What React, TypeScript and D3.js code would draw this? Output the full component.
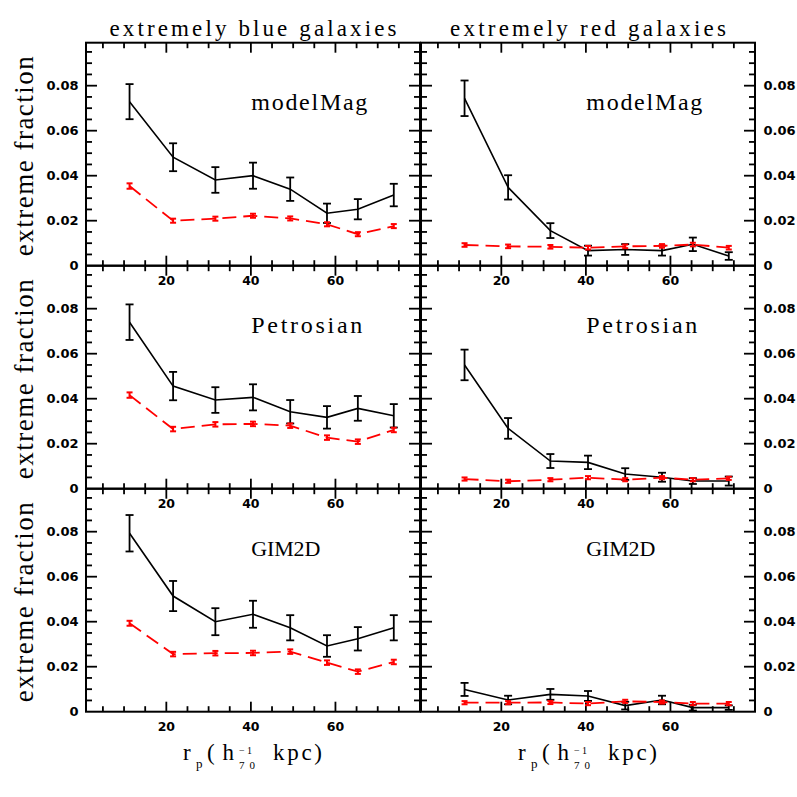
import React from "react";
import * as d3 from "d3";

// ---------- data ----------
const rpValues = [11.3, 21.6, 31.6, 40.5, 49.3, 58.0, 65.3, 73.8];
const columnTitles = ["extremely blue galaxies", "extremely red galaxies"];
const rowLabels = ["modelMag", "Petrosian", "GIM2D"];
const xMajorTicks = [20, 40, 60];
const xTickLabels = ["20", "40", "60"];
const yMajorTicks = [0, 0.02, 0.04, 0.06, 0.08];
const yTickLabels = ["0", "0.02", "0.04", "0.06", "0.08"];

// blue, modelMag
const blueModelBlack = [0.0729, 0.0482, 0.0381, 0.04, 0.034, 0.0233, 0.0251, 0.0314];
const blueModelBlackErr = [0.0078, 0.0062, 0.0057, 0.0058, 0.0052, 0.0043, 0.0045, 0.005];
const blueModelRed = [0.0354, 0.02, 0.0209, 0.0222, 0.021, 0.0184, 0.014, 0.0176];
const blueModelRedErr = [0.0012, 0.0009, 0.0009, 0.0009, 0.0009, 0.0009, 0.0009, 0.0009];
// red, modelMag
const redModelBlack = [0.0744, 0.0348, 0.0156, 0.0067, 0.0072, 0.0067, 0.0095, 0.0043];
const redModelBlackErr = [0.0079, 0.0054, 0.0033, 0.0022, 0.0024, 0.0022, 0.003, 0.0017];
const redModelRed = [0.0092, 0.0086, 0.0084, 0.008, 0.0086, 0.0088, 0.0094, 0.008];
const redModelRedErr = [0.0008, 0.0008, 0.0008, 0.0008, 0.0008, 0.0008, 0.0008, 0.0008];
// blue, Petrosian
const bluePetroBlack = [0.074, 0.0456, 0.0394, 0.0406, 0.0342, 0.0317, 0.0357, 0.0324];
const bluePetroBlackErr = [0.0079, 0.0063, 0.0057, 0.0058, 0.0052, 0.005, 0.0055, 0.0052];
const bluePetroRed = [0.0416, 0.0265, 0.0286, 0.0288, 0.028, 0.0227, 0.0209, 0.0261];
const bluePetroRedErr = [0.0012, 0.001, 0.001, 0.001, 0.001, 0.001, 0.001, 0.001];
// red, Petrosian
const redPetroBlack = [0.055, 0.0268, 0.0123, 0.0117, 0.0065, 0.0051, 0.0034, 0.0034];
const redPetroBlackErr = [0.0068, 0.0046, 0.0031, 0.003, 0.0026, 0.002, 0.0013, 0.002];
const redPetroRed = [0.0043, 0.0033, 0.004, 0.0049, 0.004, 0.0049, 0.004, 0.0046];
const redPetroRedErr = [0.0007, 0.0007, 0.0007, 0.0007, 0.0007, 0.0007, 0.0007, 0.0007];
// blue, GIM2D
const blueGimBlack = [0.0793, 0.0514, 0.04, 0.0433, 0.0373, 0.0292, 0.0324, 0.0373];
const blueGimBlackErr = [0.0081, 0.0067, 0.006, 0.006, 0.0056, 0.0048, 0.0052, 0.0056];
const blueGimRed = [0.0393, 0.0256, 0.026, 0.0261, 0.0267, 0.0218, 0.0178, 0.0221];
const blueGimRedErr = [0.0011, 0.001, 0.001, 0.001, 0.001, 0.001, 0.001, 0.001];
// red, GIM2D
const redGimBlack = [0.0099, 0.0052, 0.0077, 0.007, 0.0027, 0.0052, 0.0018, 0.0018];
const redGimBlackErr = [0.0029, 0.0019, 0.0024, 0.0022, 0.0017, 0.0019, 0.0013, 0.001];
const redGimRed = [0.004, 0.004, 0.0041, 0.0036, 0.0046, 0.0043, 0.0036, 0.0036];
const redGimRedErr = [0.0007, 0.0007, 0.0007, 0.0007, 0.0007, 0.0007, 0.0007, 0.0007];

const panels = [
  { row: 0, col: 0, black: blueModelBlack, blackErr: blueModelBlackErr, red: blueModelRed, redErr: blueModelRedErr },
  { row: 0, col: 1, black: redModelBlack, blackErr: redModelBlackErr, red: redModelRed, redErr: redModelRedErr },
  { row: 1, col: 0, black: bluePetroBlack, blackErr: bluePetroBlackErr, red: bluePetroRed, redErr: bluePetroRedErr },
  { row: 1, col: 1, black: redPetroBlack, blackErr: redPetroBlackErr, red: redPetroRed, redErr: redPetroRedErr },
  { row: 2, col: 0, black: blueGimBlack, blackErr: blueGimBlackErr, red: blueGimRed, redErr: blueGimRedErr },
  { row: 2, col: 1, black: redGimBlack, blackErr: redGimBlackErr, red: redGimRed, redErr: redGimRedErr },
];

// ---------- layout ----------
const W = 797;
const H = 797;
const colLeft = [86, 421];
const colRight = [420, 755];
const rowTop = [42.7, 265.7, 488.7];
const panelH = 223;
const X_DOMAIN: [number, number] = [1, 80];
const Y_DOMAIN: [number, number] = [0, 0.0991];

const serif = "'Liberation Serif', 'DejaVu Serif', serif";
const sans = "'DejaVu Sans', 'Liberation Sans', Arial, sans-serif";
const RED = "#ff0000";

const labelSize = [24, 24, 22];
const labelLen = [116, 111, 69];

function Panel({ p }: { p: (typeof panels)[number] }) {
  const x0 = colLeft[p.col];
  const x1 = colRight[p.col];
  const y0 = rowTop[p.row];
  const y1 = y0 + panelH;
  const x = d3.scaleLinear().domain(X_DOMAIN).range([x0, x1]);
  const y = d3.scaleLinear().domain(Y_DOMAIN).range([y1, y0]);
  const line = d3
    .line<number>()
    .x((_, i) => x(rpValues[i]))
    .y((d) => y(d));

  const xTicks = d3.range(1, 16).map((i) => i * 5);
  const yTicks = d3.range(1, 20).map((i) => i * 0.005);
  const tickEls: JSX.Element[] = [];
  xTicks.forEach((t, i) => {
    const major = xMajorTicks.includes(t);
    const len = major ? 10 : 5.5;
    const xx = x(t);
    tickEls.push(<line key={`xb${i}`} x1={xx} x2={xx} y1={y1} y2={y1 - len} />);
    tickEls.push(<line key={`xt${i}`} x1={xx} x2={xx} y1={y0} y2={y0 + len} />);
  });
  yTicks.forEach((t, i) => {
    const major = (i + 1) % 4 === 0;
    const len = major ? 11 : 6;
    const yy = y(t);
    tickEls.push(<line key={`yl${i}`} x1={x0} x2={x0 + len} y1={yy} y2={yy} />);
    tickEls.push(<line key={`yr${i}`} x1={x1} x2={x1 - len} y1={yy} y2={yy} />);
  });

  const errBars = (vals: number[], errs: number[], color: string, cap: number, sw: number, prefix: string) =>
    vals.map((v, i) => {
      const xx = x(rpValues[i]);
      const ya = y(v - errs[i]);
      const yb = y(v + errs[i]);
      return (
        <g key={`${prefix}${i}`} stroke={color} strokeWidth={sw}>
          <line x1={xx} x2={xx} y1={ya} y2={yb} />
          <line x1={xx - cap} x2={xx + cap} y1={ya} y2={ya} />
          <line x1={xx - cap} x2={xx + cap} y1={yb} y2={yb} />
        </g>
      );
    });

  const isLeft = p.col === 0;
  return (
    <g>
      <g stroke="#000" strokeWidth={1.8}>{tickEls}</g>
      <rect x={x0} y={y0} width={x1 - x0} height={panelH} fill="none" stroke="#000" strokeWidth={2} />
      {/* x tick labels */}
      {xMajorTicks.map((t, i) => (
        <text key={`xl${i}`} x={x(t)} y={y1 + 19.5} textAnchor="middle" fontFamily={sans} fontWeight="bold" fontSize={12.5}>
          {xTickLabels[i]}
        </text>
      ))}
      {/* y tick labels */}
      {yMajorTicks.map((t, i) => (
        <text
          key={`yl${i}`}
          x={isLeft ? 78.5 : 763.5}
          y={y(t) + 4.6}
          textAnchor={isLeft ? "end" : "start"}
          fontFamily={sans}
          fontWeight="bold"
          fontSize={13}
        >
          {yTickLabels[i]}
        </text>
      ))}
      {/* data */}
      <path d={line(p.black) || ""} fill="none" stroke="#000" strokeWidth={1.6} />
      {errBars(p.black, p.blackErr, "#000", 4, 1.8, "be")}
      <path d={line(p.red) || ""} fill="none" stroke={RED} strokeWidth={1.8} strokeDasharray="14,7" />
      {errBars(p.red, p.redErr, RED, 3, 2, "re")}
      {/* panel label */}
      <text
        x={x(40.1)}
        y={y0 + 67}
        fontFamily={serif}
        fontSize={labelSize[p.row]}
        textLength={labelLen[p.row]}
        lengthAdjust="spacing"
      >
        {rowLabels[p.row]}
      </text>
    </g>
  );
}

function XAxisLabel({ cx }: { cx: number }) {
  return (
    <g fontFamily={serif} fill="#000">
      <text x={cx - 70} y={760} fontSize={23}>r</text>
      <text x={cx - 57} y={768} fontSize={13}>p</text>
      <text x={cx - 46} y={760} fontSize={23} textLength={27} lengthAdjust="spacing">(h</text>
      <text x={cx - 14} y={753.5} fontSize={10} textLength={13} lengthAdjust="spacing">−1</text>
      <text x={cx - 14} y={768.5} fontSize={11} textLength={16} lengthAdjust="spacing">70</text>
      <text x={cx + 20} y={760} fontSize={23} textLength={49} lengthAdjust="spacing">kpc)</text>
    </g>
  );
}

export default function App() {
  return (
    <svg
      width={W}
      height={H}
      viewBox={`0 0 ${W} ${H}`}
      style={{ position: "absolute", left: 0, top: 0, display: "block", background: "#fff" }}
    >
      <rect x={0} y={0} width={W} height={H} fill="#fff" />
      {columnTitles.map((t, c) => (
        <text
          key={`t${c}`}
          x={(colLeft[c] + colRight[c]) / 2}
          y={36}
          textAnchor="middle"
          fontFamily={serif}
          fontSize={23}
          textLength={c === 0 ? 287 : 276}
          lengthAdjust="spacing"
        >
          {t}
        </text>
      ))}
      {rowTop.map((top, r) => (
        <text
          key={`yl${r}`}
          transform={`translate(33,${top + panelH / 2 + 2}) rotate(-90)`}
          textAnchor="middle"
          fontFamily={serif}
          fontSize={27}
          textLength={200}
          lengthAdjust="spacing"
        >
          extreme fraction
        </text>
      ))}
      {panels.map((p, i) => (
        <Panel key={i} p={p} />
      ))}
      <XAxisLabel cx={253} />
      <XAxisLabel cx={588} />
    </svg>
  );
}
